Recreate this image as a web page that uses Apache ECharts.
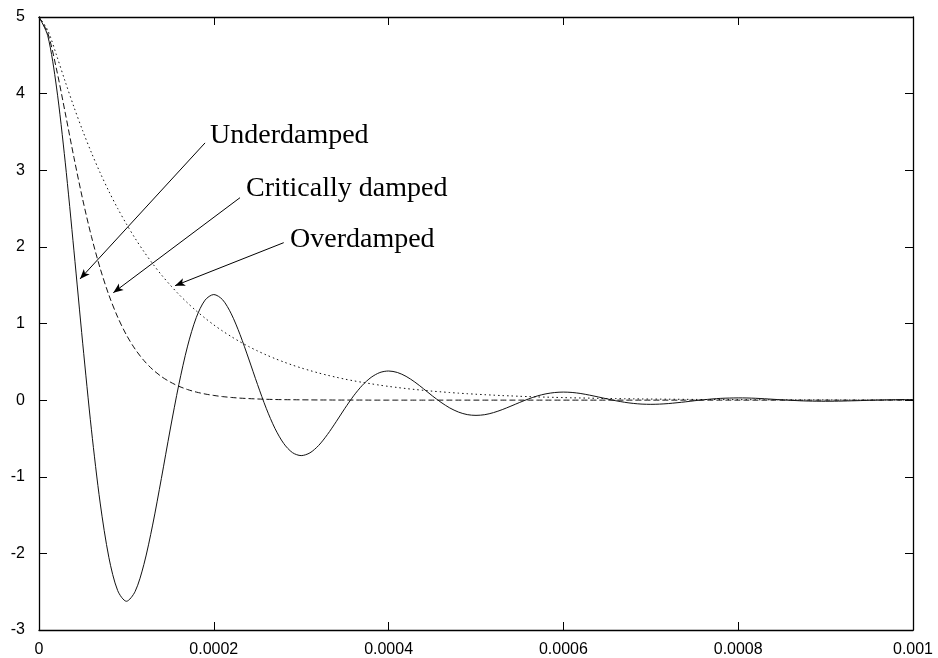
<!DOCTYPE html>
<html>
<head>
<meta charset="utf-8">
<script src="https://cdn.jsdelivr.net/npm/echarts@6/dist/echarts.min.js"></script>
<style>
  html, body { margin: 0; padding: 0; background: #fff; }
  #chart { width: 938px; height: 658px; }
</style>
</head>
<body>
<div id="chart"></div>
<script>
// time axis in microseconds (labels shown in seconds)
const timeUs = [
  0, 10, 20, 30, 40, 50, 60, 70, 80, 90,
  100, 110, 120, 130, 140, 150, 160, 170, 180, 190,
  200, 210, 220, 230, 240, 250, 260, 270, 280, 290,
  300, 310, 320, 330, 340, 350, 360, 370, 380, 390,
  400, 410, 420, 430, 440, 450, 460, 470, 480, 490,
  500, 510, 520, 530, 540, 550, 560, 570, 580, 590,
  600, 610, 620, 630, 640, 650, 660, 670, 680, 690,
  700, 710, 720, 730, 740, 750, 760, 770, 780, 790,
  800, 810, 820, 830, 840, 850, 860, 870, 880, 890,
  900, 910, 920, 930, 940, 950, 960, 970, 980, 990, 1000
];

const underdamped = [
  5, 4.756, 4.086, 3.106, 1.948, 0.743, -0.387, -1.343, -2.056, -2.485,
  -2.625, -2.497, -2.145, -1.631, -1.023, -0.390, 0.203, 0.705, 1.079, 1.305,
  1.378, 1.311, 1.126, 0.856, 0.537, 0.205, -0.107, -0.370, -0.566, -0.685,
  -0.724, -0.688, -0.591, -0.449, -0.282, -0.107, 0.056, 0.194, 0.297, 0.360,
  0.380, 0.361, 0.310, 0.236, 0.148, 0.056, -0.029, -0.102, -0.156, -0.189,
  -0.199, -0.190, -0.163, -0.124, -0.078, -0.030, 0.015, 0.054, 0.082, 0.099,
  0.105, 0.100, 0.086, 0.065, 0.041, 0.016, -0.008, -0.028, -0.043, -0.052,
  -0.055, -0.052, -0.045, -0.034, -0.022, -0.008, 0.004, 0.015, 0.023, 0.027,
  0.029, 0.028, 0.024, 0.018, 0.011, 0.004, -0.002, -0.008, -0.012, -0.014,
  -0.015, -0.014, -0.012, -0.009, -0.006, -0.002, 0.001, 0.004, 0.006, 0.008, 0.008
];

const criticallyDamped = [
  5, 4.792, 4.321, 3.749, 3.165, 2.619, 2.135, 1.719, 1.370, 1.084,
  0.851, 0.665, 0.517, 0.400, 0.308, 0.237, 0.181, 0.138, 0.105, 0.080,
  0.061, 0.046, 0.035, 0.026, 0.020, 0.015, 0.011, 0.008, 0.006, 0.005,
  0.004, 0.003, 0.002, 0.002, 0.001, 0.001, 0.001, 0.001, 0, 0,
  0, 0, 0, 0, 0, 0, 0, 0, 0, 0,
  0, 0, 0, 0, 0, 0, 0, 0, 0, 0,
  0, 0, 0, 0, 0, 0, 0, 0, 0, 0,
  0, 0, 0, 0, 0, 0, 0, 0, 0, 0,
  0, 0, 0, 0, 0, 0, 0, 0, 0, 0,
  0, 0, 0, 0, 0, 0, 0, 0, 0, 0, 0
];

const overdamped = [
  5, 4.827, 4.503, 4.157, 3.825, 3.515, 3.229, 2.966, 2.724, 2.502,
  2.299, 2.111, 1.939, 1.781, 1.636, 1.503, 1.380, 1.268, 1.164, 1.070,
  0.982, 0.902, 0.829, 0.761, 0.699, 0.642, 0.590, 0.542, 0.498, 0.457,
  0.420, 0.386, 0.354, 0.325, 0.299, 0.274, 0.252, 0.232, 0.213, 0.195,
  0.179, 0.165, 0.151, 0.139, 0.128, 0.117, 0.108, 0.099, 0.091, 0.084,
  0.077, 0.071, 0.065, 0.059, 0.055, 0.050, 0.046, 0.042, 0.039, 0.036,
  0.033, 0.030, 0.028, 0.026, 0.023, 0.021, 0.020, 0.018, 0.017, 0.015,
  0.014, 0.013, 0.012, 0.011, 0.010, 0.009, 0.008, 0.008, 0.007, 0.007,
  0.006, 0.006, 0.005, 0.005, 0.004, 0.004, 0.004, 0.003, 0.003, 0.003,
  0.003, 0.002, 0.002, 0.002, 0.002, 0.002, 0.002, 0.001, 0.001, 0.001, 0.001
];

const xTickLabels = ['0', '0.0002', '0.0004', '0.0006', '0.0008', '0.001'];
const yTickLabels = ['-3', '-2', '-1', '0', '1', '2', '3', '4', '5'];

// annotation arrows: [label, from (us, V), to (us, V)]
const arrows = [
  ['Underdamped', [190, 3.357], [46.9, 1.581]],
  ['Critically damped', [230, 2.642], [85, 1.402]],
  ['Overdamped', [280, 2.055], [155.7, 1.494]]
];

const pairs = (ys) => timeUs.map((t, i) => [t, ys[i]]);

const axisLine = { show: true, onZero: false, lineStyle: { color: '#000', width: 1.3 } };
const tick = { show: true, inside: true, length: 8, lineStyle: { color: '#000', width: 1 } };
const labelFont = { color: '#000', fontFamily: 'Liberation Sans', fontSize: 16 };

const chart = echarts.init(document.getElementById('chart'), null, { renderer: 'canvas' });

const option = {
  animation: false,
  backgroundColor: '#fff',
  grid: { left: 39, right: 25, top: 17, bottom: 28, containLabel: false },
  xAxis: [
    {
      type: 'value', min: 0, max: 1000, interval: 200, position: 'bottom',
      axisLine, axisTick: tick, splitLine: { show: false },
      axisLabel: { ...labelFont, margin: 12, formatter: (v) => xTickLabels[Math.round(v / 200)] }
    },
    {
      type: 'value', min: 0, max: 1000, interval: 200, position: 'top',
      axisLine, axisTick: tick, splitLine: { show: false }, axisLabel: { show: false }
    }
  ],
  yAxis: [
    {
      type: 'value', min: -3, max: 5, interval: 1, position: 'left',
      axisLine, axisTick: tick, splitLine: { show: false },
      axisLabel: { ...labelFont, margin: 14, formatter: (v) => yTickLabels[Math.round(v + 3)] }
    },
    {
      type: 'value', min: -3, max: 5, interval: 1, position: 'right',
      axisLine, axisTick: tick, splitLine: { show: false }, axisLabel: { show: false }
    }
  ],
  series: [
    {
      name: 'Overdamped', type: 'line', data: pairs(overdamped),
      smooth: 0.3, symbol: 'none',
      lineStyle: { color: '#111', width: 1, type: [1.5, 3] }
    },
    {
      name: 'Critically damped', type: 'line', data: pairs(criticallyDamped),
      smooth: 0.3, symbol: 'none',
      lineStyle: { color: '#111', width: 1, type: [6, 3] }
    },
    {
      name: 'Underdamped', type: 'line', data: pairs(underdamped),
      smooth: 0.3, symbol: 'none',
      lineStyle: { color: '#111', width: 1 },
      markLine: {
        silent: true,
        symbol: ['none', 'arrow'],
        symbolSize: [6, 10],
        label: { show: false },
        lineStyle: { color: '#000', width: 1, type: 'solid' },
        data: arrows.map(a => [{ coord: a[1] }, { coord: a[2] }])
      }
    }
  ],
  graphic: [
    { type: 'text', left: 210, top: 122, style: { text: 'Underdamped', font: '28px "Liberation Serif"', fill: '#000' } },
    { type: 'text', left: 246, top: 175, style: { text: 'Critically damped', font: '28px "Liberation Serif"', fill: '#000' } },
    { type: 'text', left: 290, top: 226, style: { text: 'Overdamped', font: '28px "Liberation Serif"', fill: '#000' } }
  ]
};

chart.setOption(option);
</script>
</body>
</html>
